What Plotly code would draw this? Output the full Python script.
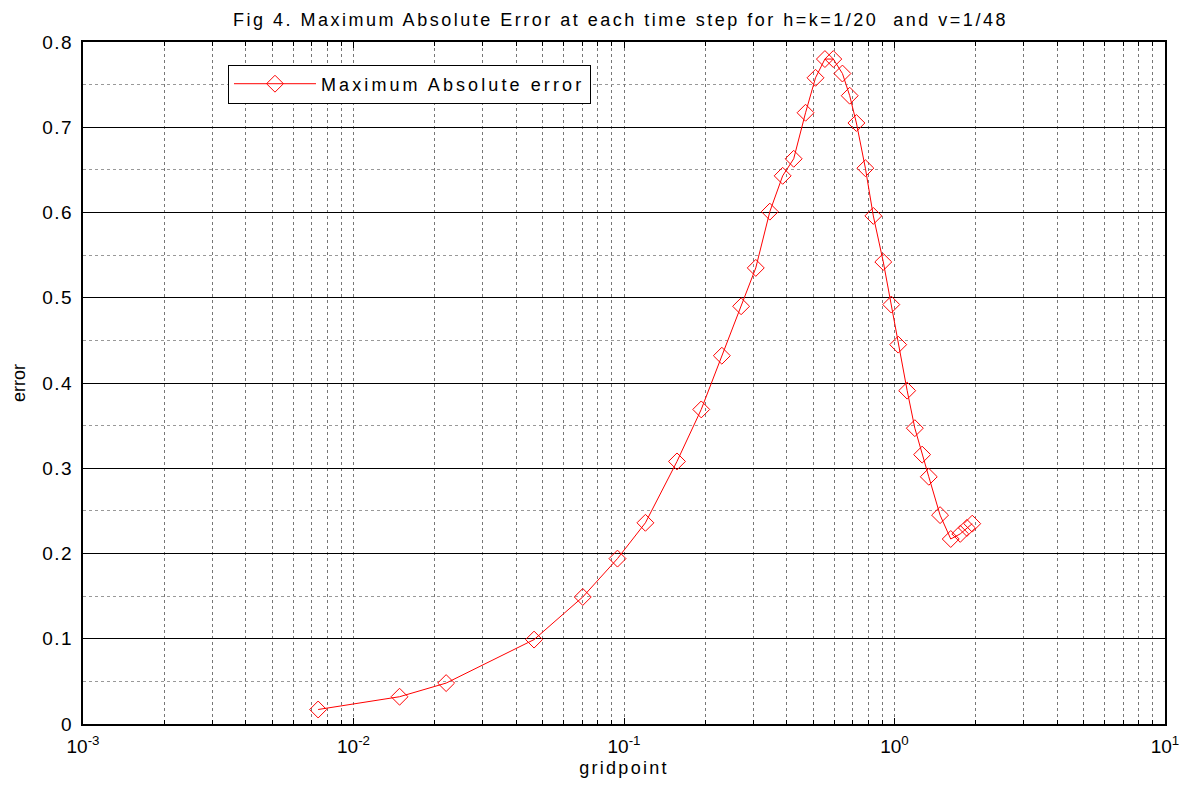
import plotly.graph_objects as go

gridpoint = [0.0074, 0.0148, 0.0220, 0.0465, 0.0704, 0.0946, 0.120, 0.157, 0.193, 0.230,
             0.271, 0.307, 0.346, 0.386, 0.424, 0.469, 0.5105, 0.553, 0.594, 0.642,
             0.683, 0.723, 0.7805, 0.835, 0.909, 0.973, 1.032, 1.114, 1.189, 1.265,
             1.339, 1.474, 1.614, 1.75, 1.852, 1.938]
max_abs_error = [0.017, 0.032, 0.048, 0.099, 0.149, 0.194, 0.236, 0.308, 0.369, 0.432,
                 0.490, 0.535, 0.601, 0.643, 0.663, 0.717, 0.758, 0.780, 0.780, 0.763,
                 0.737, 0.705, 0.652, 0.596, 0.542, 0.492, 0.445, 0.391, 0.347, 0.316,
                 0.290, 0.245, 0.217, 0.223, 0.230, 0.235]

x_tickvals = [1e-3, 1e-2, 1e-1, 1e0, 1e1]
x_ticktext = ["10<sup>-3</sup>", "10<sup>-2</sup>", "10<sup>-1</sup>", "10<sup>0</sup>", "10<sup>1</sup>"]
x_minor = [m * 10.0 ** e for e in range(-3, 1) for m in range(2, 10)]

y_tickvals = [0, 0.1, 0.2, 0.3, 0.4, 0.5, 0.6, 0.7, 0.8]
y_ticklabels = ["0", "0.1", "0.2", "0.3", "0.4", "0.5", "0.6", "0.7", "0.8"]

title_text = "Fig 4. Maximum Absolute Error at each time step for h=k=1/20&nbsp; and v=1/48"
legend_text = "Maximum Absolute error"

FONT = "Liberation Sans, Arial, sans-serif"


def wide(s, px):
    return '<span style="letter-spacing:%spx">%s</span>' % (px, s)


fig = go.Figure()
fig.add_trace(go.Scatter(
    x=gridpoint, y=max_abs_error, mode="lines+markers",
    name=wide(legend_text, 3.1),
    line=dict(color="red", width=1),
    marker=dict(symbol="diamond-open", size=13, color="red", line=dict(width=1, color="red")),
))

fig.update_layout(
    width=1191, height=787,
    paper_bgcolor="white", plot_bgcolor="white",
    margin=dict(l=83, r=21, t=42, b=62),
    font=dict(family=FONT, color="black", size=18),
    title=dict(text=wide(title_text, 2.5),
               x=0.521, xanchor="center", y=0.975, yanchor="middle",
               font=dict(size=18, family=FONT, color="black")),
    showlegend=True,
    legend=dict(x=0.134, y=0.967, xanchor="left", yanchor="top",
                bordercolor="black", borderwidth=1, bgcolor="white",
                itemwidth=82, tracegroupgap=0,
                font=dict(size=18, family=FONT)),
    xaxis=dict(
        type="log", range=[-3, 1],
        tickvals=x_tickvals, ticktext=x_ticktext,
        ticks="inside", ticklen=6, tickcolor="black",
        ticklabelstandoff=4,
        showline=True, linecolor="black", linewidth=2, mirror="ticks",
        showgrid=True, gridcolor="#777777", griddash="dot", gridwidth=1,
        minor=dict(tickvals=x_minor, ticks="inside", ticklen=4, tickcolor="black",
                   showgrid=True, gridcolor="#777777", griddash="dot", gridwidth=1),
        title=dict(text=wide("gridpoint", 2.3), font=dict(size=18, family=FONT), standoff=6),
        tickfont=dict(size=19, family=FONT),
        zeroline=False,
    ),
    yaxis=dict(
        range=[0, 0.8],
        tickvals=y_tickvals, ticktext=[wide(t, 1.5) for t in y_ticklabels],
        ticks="inside", ticklen=6, tickcolor="black",
        ticklabelstandoff=4,
        showline=True, linecolor="black", linewidth=2, mirror="ticks",
        showgrid=True, gridcolor="black", gridwidth=1,
        minor=dict(dtick=0.05, ticks="", showgrid=True, gridcolor="#999999",
                   griddash="dot", gridwidth=1),
        title=dict(text="error", font=dict(size=18, family=FONT), standoff=12),
        tickfont=dict(size=19, family=FONT),
        zeroline=False,
    ),
)

fig.write_html("out.html")
